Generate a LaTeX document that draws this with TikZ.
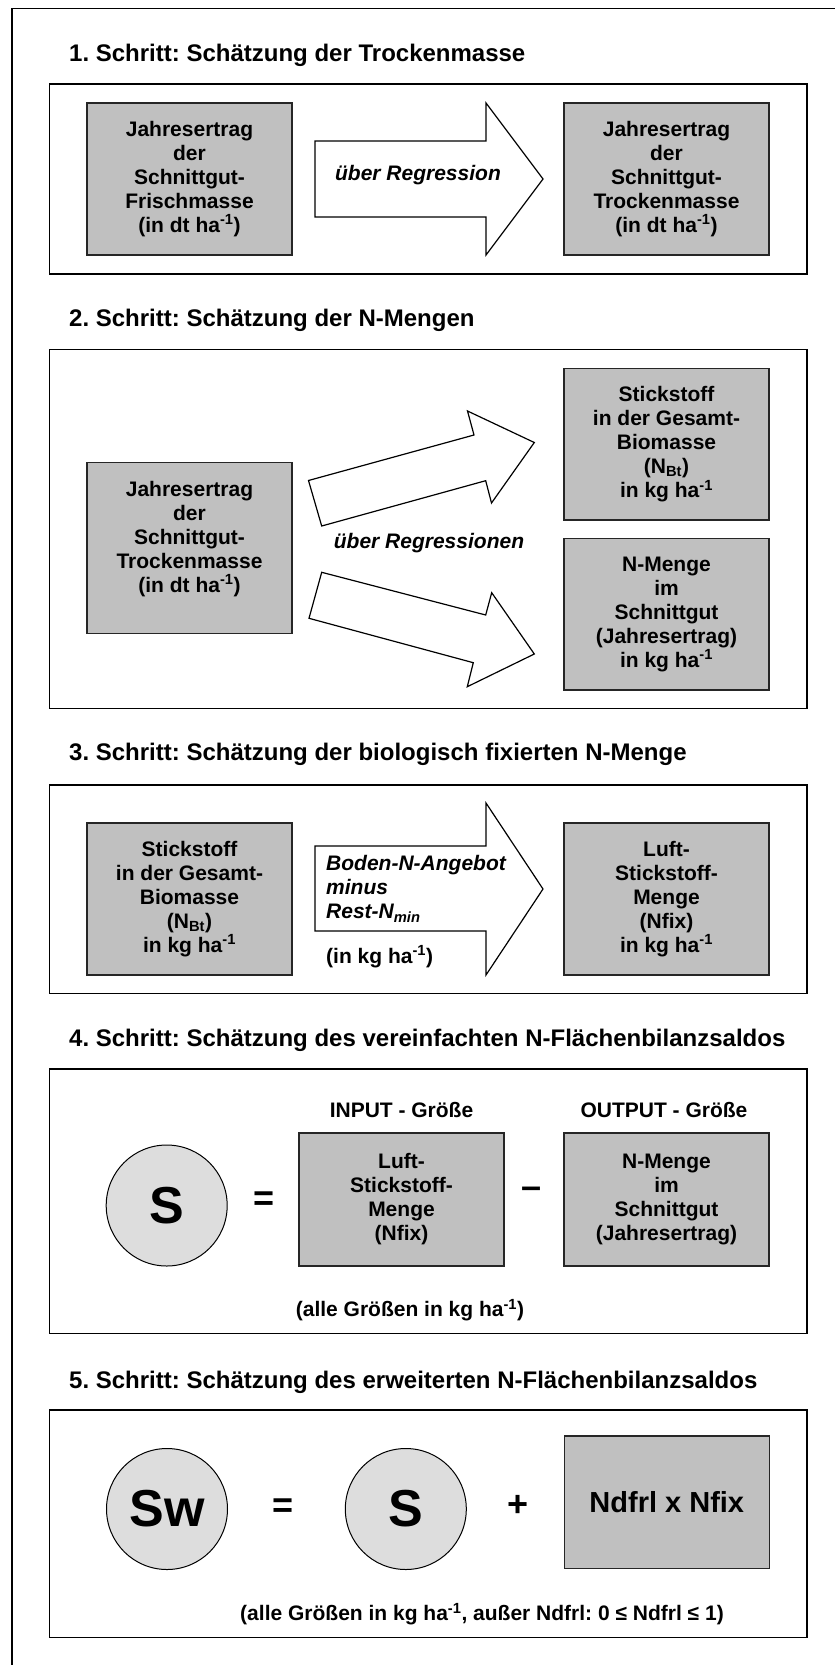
\documentclass[tikz,border=0pt]{standalone}
\usepackage{fontspec}
\setmainfont{Liberation Sans}
\definecolor{boxgrey}{HTML}{C0C0C0}
\definecolor{circgrey}{HTML}{DDDDDD}
\frenchspacing
\begin{document}
\frenchspacing
\begin{tikzpicture}[x=1pt,y=-1pt,
  every node/.style={font=\fontsize{21}{24}\selectfont\bfseries, inner sep=0pt},
  frame/.style={draw=black, line width=1.6pt},
  gbox/.style={draw=black!85, fill=boxgrey, line width=1.5pt, align=center, minimum width=205pt},
  txt/.style={align=center},
  ital/.style={font=\fontsize{21}{24}\selectfont\bfseries\itshape},
  circ/.style={circle, draw=black, fill=circgrey, line width=1pt, minimum size=121pt, font=\fontsize{52}{52}\selectfont\bfseries},
  barrow/.style={draw=black, fill=white, line width=1.2pt, line join=miter},
  title/.style={anchor=base west, font=\fontsize{24}{28}\selectfont\bfseries},
  op/.style={anchor=base, font=\fontsize{36}{36}\selectfont\bfseries}
]
\useasboundingbox (0,0) rectangle (835,1665);
% outer frame (cut at right and bottom)
\draw[line width=1.2pt] (12,1665) -- (12,8.3) -- (835,8.3);

% ---------- Step 1 ----------
\node[title] (t1) at (69,61) {1. Schritt: Schätzung der Trockenmasse};
\draw[frame] (49.5,84) rectangle (807,274);
\node[gbox, minimum height=152pt] (a1) at (189.5,179) {Jahresertrag\\der\\Schnittgut-\\Frischmasse\\(in dt ha\textsuperscript{-1})};
\node[gbox, minimum height=152pt] (b1) at (666.5,179) {Jahresertrag\\der\\Schnittgut-\\Trockenmasse\\(in dt ha\textsuperscript{-1})};
\draw[barrow] (315,141) -- (486,141) -- (486,103) -- (543,179) -- (486,255) -- (486,217) -- (315,217) -- cycle;
\node[ital] (r1) at (418,175) {über Regression};

% ---------- Step 2 ----------
\node[title] (t2) at (69,326) {2. Schritt: Schätzung der N-Mengen};
\draw[frame] (49.5,349.3) rectangle (807,708.3);
\node[gbox, minimum height=170.6pt] (a2) at (189.5,548) {};
\node[txt] (a2t) at (189.5,539) {Jahresertrag\\der\\Schnittgut-\\Trockenmasse\\(in dt ha\textsuperscript{-1})};
\node[gbox, minimum height=151.7pt] (b2) at (666.5,444.2) {Stickstoff\\in der Gesamt-\\Biomasse\\(N\textsubscript{Bt})\\in kg ha\textsuperscript{-1}};
\node[gbox, minimum height=151.7pt] (c2) at (666.5,614.2) {N-Menge\\im\\Schnittgut\\(Jahresertrag)\\in kg ha\textsuperscript{-1}};
\draw[barrow] (308.5,480.5) -- (474,435) -- (467.5,411) -- (534.3,442.5) -- (491.5,503) -- (485.7,480.7) -- (321.7,526) -- cycle;
\draw[barrow] (321.7,572.3) -- (485.7,615) -- (491.7,592.7) -- (534.3,654) -- (467.3,686.7) -- (473.3,662.7) -- (309,618.3) -- cycle;
\node[ital] (r2) at (429,543) {über Regressionen};

% ---------- Step 3 ----------
\node[title] (t3) at (69,760) {3. Schritt: Schätzung der biologisch fixierten N-Menge};
\draw[frame] (49.5,785) rectangle (807,993.3);
\node[gbox, minimum height=152.3pt] (a3) at (189.5,898.9) {Stickstoff\\in der Gesamt-\\Biomasse\\(N\textsubscript{Bt})\\in kg ha\textsuperscript{-1}};
\node[gbox, minimum height=152.3pt] (b3) at (666.5,898.9) {Luft-\\Stickstoff-\\Menge\\(Nfix)\\in kg ha\textsuperscript{-1}};
\draw[barrow] (315,846) -- (486,846) -- (486,803) -- (543,889) -- (486,975) -- (486,931) -- (315,931) -- cycle;
\node[ital, align=left, anchor=west] (r3) at (326,888.8) {Boden-N-Angebot\\minus\\Rest-N\textsubscript{\itshape min}};
\node[anchor=west] (u3) at (326,956.7) {(in kg ha\textsuperscript{-1})};

% ---------- Step 4 ----------
\node[title] (t4) at (69,1046) {4. Schritt: Schätzung des vereinfachten N-Flächenbilanzsaldos};
\draw[frame] (49.5,1069) rectangle (807,1333.3);
\node (inl) at (401.5,1110) {INPUT - Größe};
\node (outl) at (664,1110) {OUTPUT - Größe};
\node[circ] (s4) at (166.7,1205.5) {S};
\node[op] (eq4) at (264,1210) {=};
\node[gbox, minimum height=133pt] (in4) at (401.5,1199.5) {Luft-\\Stickstoff-\\Menge\\(Nfix)};
\node[op] (mi4) at (532,1198) {–};
\node[gbox, minimum height=133pt] (out4) at (666.5,1199.5) {N-Menge\\im\\Schnittgut\\(Jahresertrag)};
\node (n4) at (410,1310) {(alle Größen in kg ha\textsuperscript{-1})};

% ---------- Step 5 ----------
\node[title] (t5) at (69,1388) {5. Schritt: Schätzung des erweiterten N-Flächenbilanzsaldos};
\draw[frame] (49.5,1410) rectangle (807,1637.5);
\node[circ] (sw) at (167,1509) {Sw};
\node[op] (eq5) at (283.5,1517) {=};
\node[circ] (s5) at (405.8,1509) {S};
\node[op] (pl5) at (518,1516) {+};
\node[gbox, minimum height=132.3pt, font=\fontsize{29}{32}\selectfont\bfseries] (nd) at (666.8,1502.2) {Ndfrl x Nfix};
\node (n5) at (482,1614) {(alle Größen in kg ha\textsuperscript{-1}, außer Ndfrl: 0 ≤ Ndfrl ≤ 1)};
\end{tikzpicture}
\end{document}
